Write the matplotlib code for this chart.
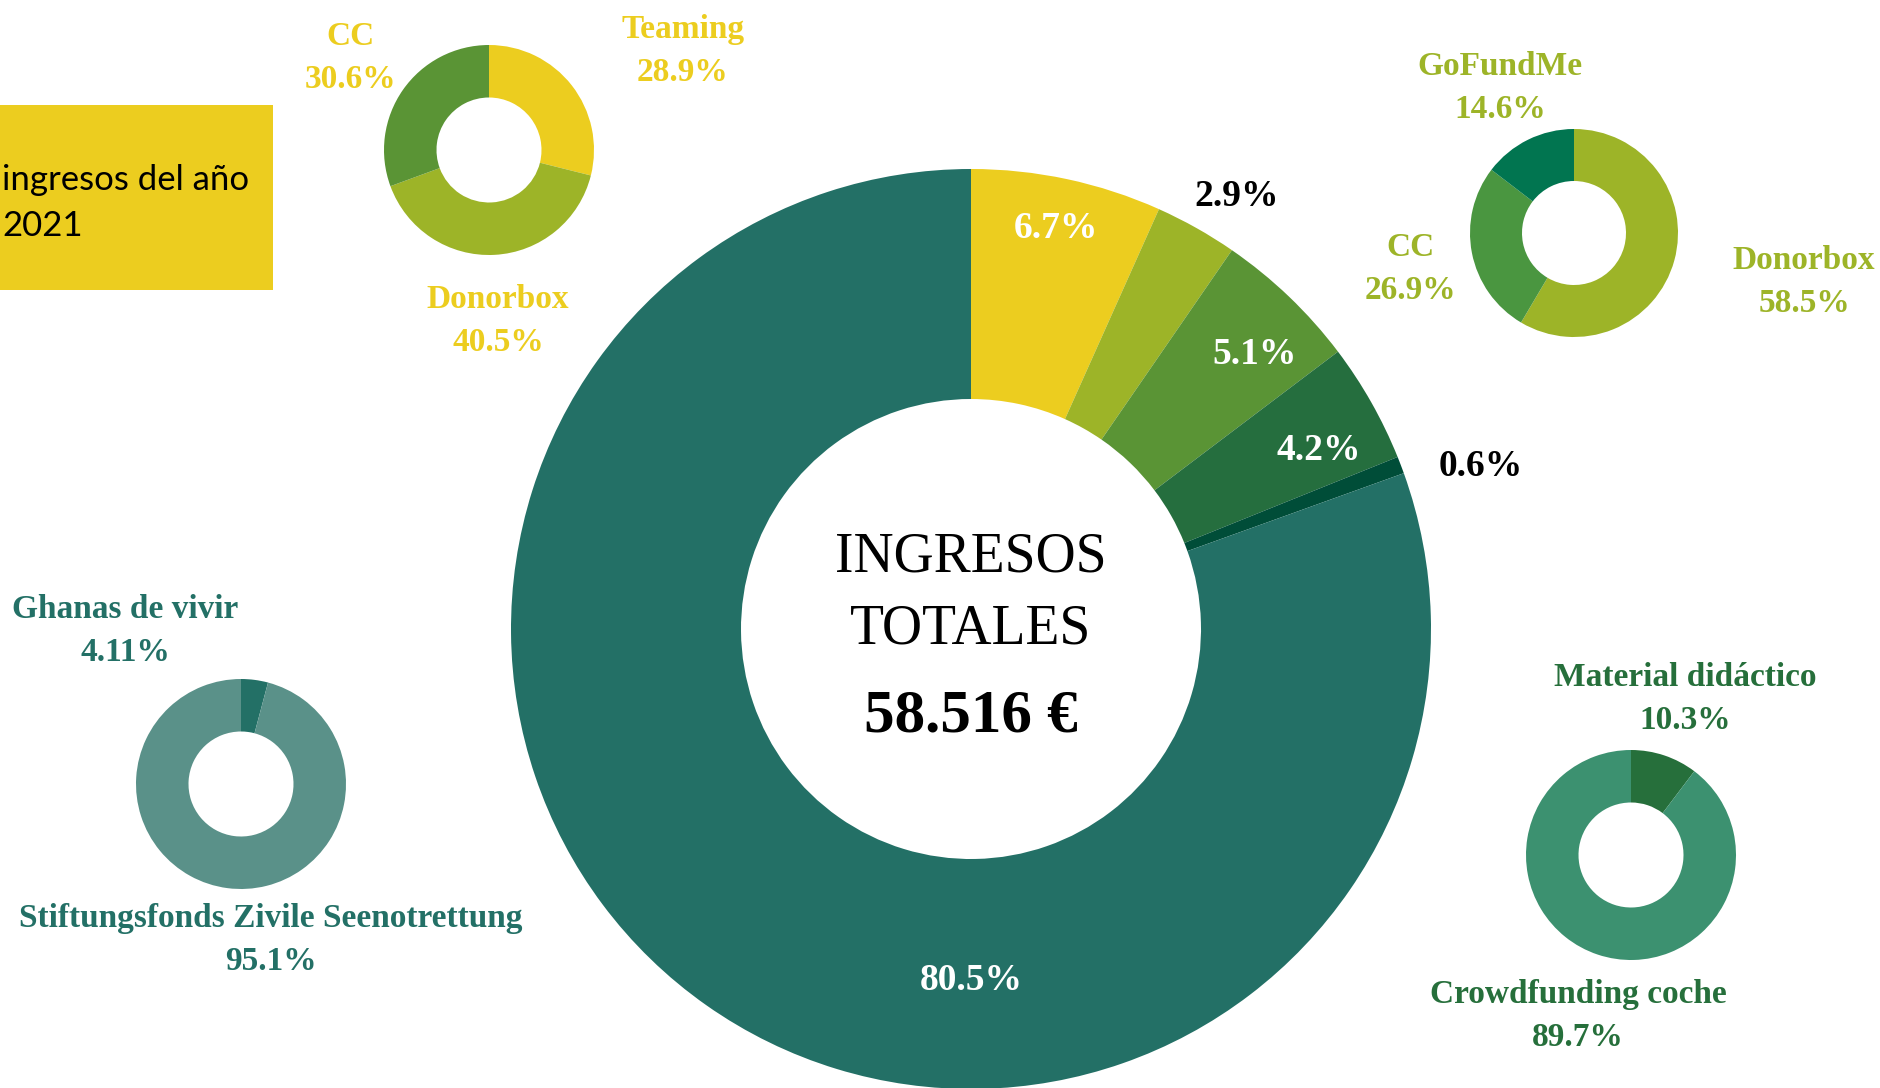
import matplotlib
matplotlib.use("Agg")
import matplotlib.pyplot as plt
from matplotlib.patches import Rectangle

# main donut: share of total income
main_values = [6.7, 2.9, 5.1, 4.2, 0.6, 80.5]
main_colors = ["#ECCD1F", "#9DB428", "#5A9435", "#256E3E", "#004D38", "#237066"]
main_label_colors = ["white", "black", "white", "white", "black", "white"]

# small donuts
tl_names = ["Teaming", "Donorbox", "CC"]
tl_values = [28.9, 40.5, 30.6]
tl_colors = ["#ECCD1F", "#9DB428", "#5A9435"]

tr_names = ["Donorbox", "CC", "GoFundMe"]
tr_values = [58.5, 26.9, 14.6]
tr_colors = ["#9DB428", "#4A9640", "#017550"]

bl_names = ["Ghanas de vivir", "Stiftungsfonds Zivile Seenotrettung"]
bl_values = [4.11, 95.1]
bl_colors = ["#237066", "#5A9189"]

br_names = ["Material didáctico", "Crowdfunding coche"]
br_values = [10.3, 89.7]
br_colors = ["#266F3B", "#3C9170"]

total_text = "58.516 €"

W, H = 1880, 1088
fig = plt.figure(figsize=(18.8, 10.88), dpi=100)
ax = fig.add_axes([0, 0, 1, 1])

SERIF = "Liberation Serif"


def y(v):
    # image pixel row -> data y
    return H - v


def donut(vals, cols, cx, cy, r):
    ax.pie(vals, colors=cols, startangle=90, counterclock=False,
           center=(cx, y(cy)), radius=r,
           wedgeprops=dict(width=r * 0.5, linewidth=0))


# main donut
donut(main_values, main_colors, 971, 629, 460)
main_pos = [(1056, 229), (1237, 196), (1255, 355), (1319, 451), (1481, 466), (971, 981)]
for v, c, (px, py) in zip(main_values, main_label_colors, main_pos):
    ax.text(px, y(py), f"{v:g}%", color=c, fontsize=27, fontweight="bold",
            family=SERIF, ha="center", va="center")

ax.text(971, y(557), "INGRESOS", fontsize=40, family=SERIF, ha="center", va="center")
ax.text(971, y(630), "TOTALES", fontsize=40, family=SERIF, ha="center", va="center")
ax.text(971, y(717), total_text, fontsize=44, fontweight="bold", family=SERIF,
        ha="center", va="center")

# small donuts + labels
small = [
    (tl_names, tl_values, tl_colors, (489, 150), 105, "#ECCD1F",
     [(683, 51), (498, 321), (351, 58)]),
    (tr_names, tr_values, tr_colors, (1574, 233), 104, "#9DB428",
     [(1804, 282), (1410, 269), (1500, 88)]),
    (bl_names, bl_values, bl_colors, (241, 784), 105, "#237066",
     [(125, 631), (271, 940)]),
    (br_names, br_values, br_colors, (1631, 855), 105, "#266F3B",
     [(1685, 699), (1578, 1016)]),
]
for names, vals, cols, (cx, cy), r, tc, pos in small:
    donut(vals, cols, cx, cy, r)
    for n, v, (px, py) in zip(names, vals, pos):
        ax.text(px, y(py), f"{n}\n{v:g}%", color=tc, fontsize=24, fontweight="bold",
                family=SERIF, ha="center", va="center", linespacing=1.5)

# yellow title box
ax.add_patch(Rectangle((0, y(290)), 273, 185, color="#ECCD1F", lw=0))
ax.text(2, y(203), "ingresos del año\n2021", fontsize=25, family="Lato",
        ha="left", va="center", linespacing=1.55)

ax.set_xlim(0, W)
ax.set_ylim(0, H)
ax.set_aspect("equal")
ax.axis("off")

fig.savefig("out.png", dpi=100, facecolor="white")
